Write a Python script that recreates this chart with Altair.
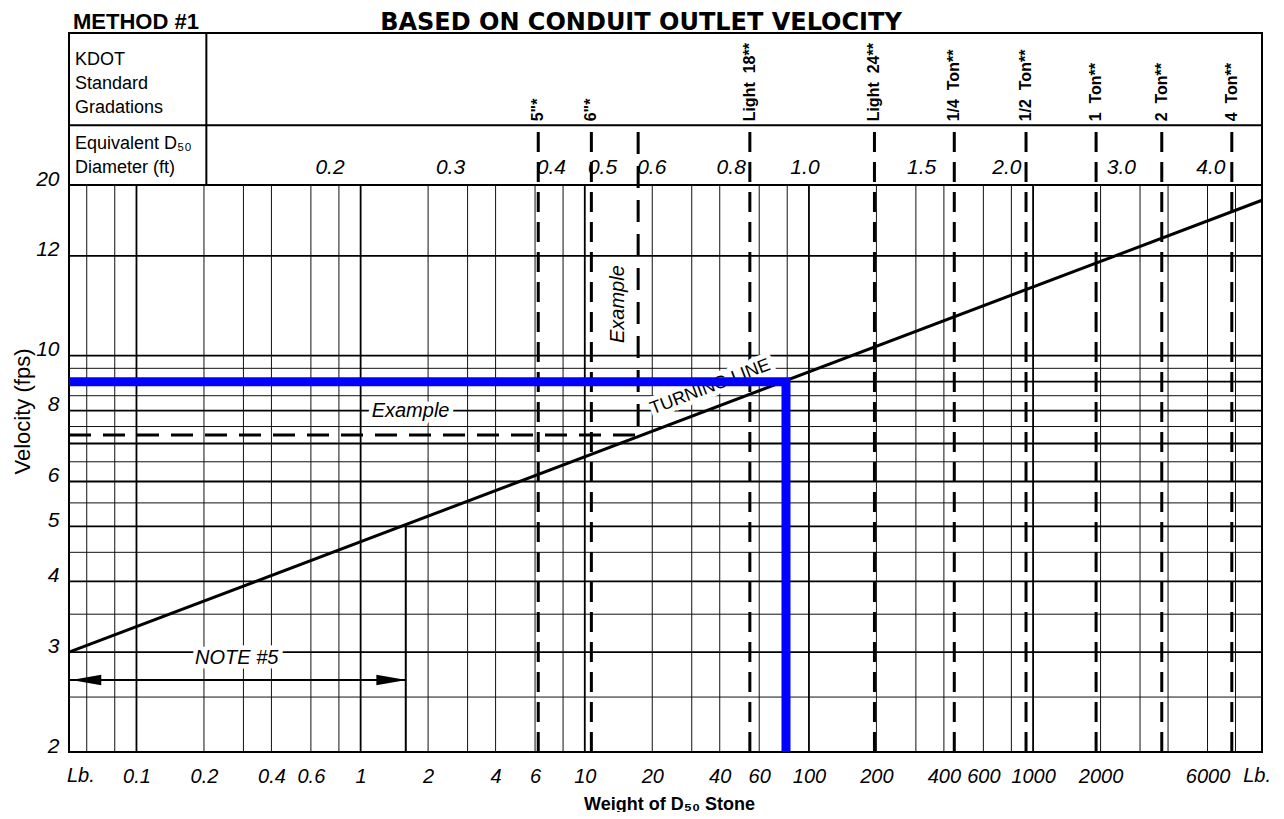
import altair as alt
import pandas as pd

# ---------------- data ----------------
# velocity grid (fps)
vel_major = [2, 3, 4, 5, 6, 7, 8, 9, 10, 15, 20]
vel_minor = [2.5, 3.5, 4.5, 5.5, 6.5, 7.5, 8.5, 9.5]
# weight grid (lb)
wt_major = [0.1, 1, 10, 100, 1000]
wt_minor = [0.06, 0.08, 0.2, 0.3, 0.4, 0.6, 0.8, 2, 3, 4, 6, 8, 20, 30, 40, 60, 80,
            200, 300, 400, 600, 800, 2000, 3000, 4000, 6000, 8000]

y_tick_values = [2, 3, 4, 5, 6, 8, 10, 15, 20]
y_tick_labels = ["2", "3", "4", "5", "6", "8", "10", "12", "20"]
x_tick_values = [0.1, 0.2, 0.4, 0.6, 1, 2, 4, 6, 10, 20, 40, 60, 100, 200, 400, 600,
                 1000, 2000, 6000]
x_tick_labels = ["0.1", "0.2", "0.4", "0.6", "1", "2", "4", "6", "10", "20", "40", "60",
                 "100", "200", "400", "600", "1000", "2000", "6000"]

NB = "\u00a0"
grad_names = ['5"*', '6"*', "Light" + NB + NB + "18**", "Light" + NB + NB + "24**",
              "1/4" + NB + NB + "Ton**", "1/2" + NB + NB + "Ton**", "1" + NB + NB + "Ton**",
              "2" + NB + NB + "Ton**", "4" + NB + NB + "Ton**"]
grad_weights = [6.2, 10.7, 54.5, 196, 445, 930, 1910, 3750, 7700]

d50_labels = ["0.2", "0.3", "0.4", "0.5", "0.6", "0.8", "1.0", "1.5", "2.0", "3.0", "4.0"]
d50_weights = [0.73, 2.52, 7.1, 12.0, 19.9, 45, 96, 318, 764, 2478, 6210]

turning_w = [0.05, 10500]
turning_v = [3.0, 18.8]

example_w = [0.05, 17.3, 17.3]
example_v = [7.25, 7.25, 25.5]

design_w = [0.05, 79, 79]
design_v = [9.0, 9.0, 2.0]

note_limit_w = 1.59
note_arrow_v = 2.68
note_top_v = 5.05

# ---------------- layout constants (data units) ----------------
W_MIN, W_MAX = 0.05, 10500
V_MIN, V_PLOT_MAX, V_TOP = 2, 20, 37.08
V_ROW = 25.5        # header row divider
W_COL = 0.205       # header column divider
GRAD_TOP = 25.6
GRAD_LAB = 25.9
D50_V = 20.9
XLAB_V = 1.815

FONT = "Liberation Sans"

XS = alt.Scale(type="log", domain=[W_MIN, W_MAX], nice=False)
YS = alt.Scale(type="log", domain=[V_MIN, V_TOP], nice=False)


def label_expr(vals, labs):
    e = "''"
    for v, l in reversed(list(zip(vals, labs))):
        e = f"(abs(datum.value / {v} - 1) < 1e-6 ? '{l}' : {e})"
    return e


x_axis = alt.Axis(values=x_tick_values, labelExpr=label_expr(x_tick_values, x_tick_labels),
                  title="Weight of D\u2085\u2080 Stone", grid=False, ticks=False, tickSize=0,
                  domain=False, labelFont=FONT, labelFontSize=20, labelFontStyle="italic",
                  labelColor="black", labelPadding=24, labelBaseline="middle",
                  labelOverlap=False, labelFlush=False, titleFont=FONT, titleFontSize=18,
                  titleFontWeight="bold", titleColor="black", titleX=600, titleY=52,
                  titleAlign="center", titleBaseline="middle")
y_axis = alt.Axis(values=y_tick_values, labelExpr=label_expr(y_tick_values, y_tick_labels),
                  title="Velocity  (fps)", grid=False, ticks=False, tickSize=0, domain=False,
                  labelFont=FONT, labelFontSize=21, labelFontStyle="italic", labelColor="black",
                  labelPadding=10, labelBaseline="alphabetic", labelOverlap=False,
                  labelFlush=False, titleFont=FONT, titleFontSize=22, titleFontWeight="normal",
                  titleColor="black", titleAngle=270, titleX=-47, titleY=378,
                  titleAlign="center", titleBaseline="middle")


def xq(f):
    return alt.X(f"{f}:Q", scale=XS, axis=x_axis)


def yq(f):
    return alt.Y(f"{f}:Q", scale=YS, axis=y_axis)


layers = []

# horizontal grid
layers.append(alt.Chart(pd.DataFrame({"v": vel_minor})).mark_rule(color="#111", strokeWidth=1)
              .encode(y=yq("v")))
layers.append(alt.Chart(pd.DataFrame({"v": vel_major})).mark_rule(color="black", strokeWidth=1.8)
              .encode(y=yq("v")))
# vertical grid
layers.append(alt.Chart(pd.DataFrame({"w": wt_minor, "lo": V_MIN, "hi": V_PLOT_MAX}))
              .mark_rule(color="#111", strokeWidth=1)
              .encode(x=xq("w"), y=yq("lo"), y2="hi:Q"))
layers.append(alt.Chart(pd.DataFrame({"w": wt_major, "lo": V_MIN, "hi": V_PLOT_MAX}))
              .mark_rule(color="black", strokeWidth=1.8)
              .encode(x=xq("w"), y=yq("lo"), y2="hi:Q"))
# header table lines
layers.append(alt.Chart(pd.DataFrame({"v": [V_ROW]})).mark_rule(color="black", strokeWidth=2)
              .encode(y=yq("v")))
layers.append(alt.Chart(pd.DataFrame({"w": [W_COL], "lo": V_PLOT_MAX, "hi": V_TOP}))
              .mark_rule(color="black", strokeWidth=2)
              .encode(x=xq("w"), y=yq("lo"), y2="hi:Q"))

# header texts
hdr = pd.DataFrame({
    "t": ["KDOT", "Standard", "Gradations", "Equivalent  D\u2085\u2080", "Diameter  (ft)"],
    "w": [0.0532, 0.0532, 0.0532, 0.0532, 0.0532],
    "v": [32.55, 29.53, 26.79, 23.15, 21.0],
})
layers.append(alt.Chart(hdr).mark_text(align="left", baseline="alphabetic", font=FONT,
                                       fontSize=18, color="black")
              .encode(x=xq("w"), y=yq("v"), text="t:N"))

# gradation dashed lines and labels
grad = pd.DataFrame({"w": grad_weights, "name": grad_names, "lo": V_MIN, "hi": GRAD_TOP,
                     "lab": GRAD_LAB})
layers.append(alt.Chart(grad).mark_rule(color="black", strokeWidth=3, strokeDash=[20, 10])
              .encode(x=xq("w"), y=yq("lo"), y2="hi:Q"))
layers.append(alt.Chart(grad).mark_text(angle=270, align="left", baseline="middle", font=FONT,
                                        fontSize=16, fontWeight="bold", color="black")
              .encode(x=xq("w"), y=yq("lab"), text="name:N"))

# D50 labels
d50 = pd.DataFrame({"t": d50_labels, "w": d50_weights, "v": D50_V})
layers.append(alt.Chart(d50).mark_text(align="center", baseline="alphabetic", font=FONT,
                                       fontSize=21, fontStyle="italic", color="black")
              .encode(x=xq("w"), y=yq("v"), text="t:N"))

# example dashed path
ex = pd.DataFrame({"w": example_w, "v": example_v, "o": [0, 1, 2]})
layers.append(alt.Chart(ex).mark_line(color="black", strokeWidth=3, strokeDash=[22, 12])
              .encode(x=xq("w"), y=yq("v"), order="o:Q"))

# NOTE #5 limit line and arrow
layers.append(alt.Chart(pd.DataFrame({"w": [note_limit_w], "lo": V_MIN, "hi": note_top_v}))
              .mark_rule(color="black", strokeWidth=2)
              .encode(x=xq("w"), y=yq("lo"), y2="hi:Q"))
layers.append(alt.Chart(pd.DataFrame({"a": [W_MIN], "b": [note_limit_w], "v": [note_arrow_v]}))
              .mark_rule(color="black", strokeWidth=2)
              .encode(x=xq("a"), x2="b:Q", y=yq("v")))
layers.append(alt.Chart(pd.DataFrame({"w": [0.0597], "v": [note_arrow_v]}))
              .mark_point(filled=True, size=900, shape="M -1 0 L 1 -0.35 L 1 0.35 Z",
                          color="black", opacity=1, strokeWidth=0)
              .encode(x=xq("w"), y=yq("v")))
layers.append(alt.Chart(pd.DataFrame({"w": [1.371], "v": [note_arrow_v]}))
              .mark_point(filled=True, size=900, shape="M 1 0 L -1 -0.35 L -1 0.35 Z",
                          color="black", opacity=1, strokeWidth=0)
              .encode(x=xq("w"), y=yq("v")))


def annotation(text, w, v, angle=0, italic=True, size=20, halo=9):
    df = pd.DataFrame({"t": [text], "w": [w], "v": [v]})
    style = "italic" if italic else "normal"
    h = alt.Chart(df).mark_text(align="center", baseline="middle", font=FONT, fontSize=size,
                                fontStyle=style, angle=angle, color="white", stroke="white",
                                strokeWidth=halo, strokeJoin="round") \
        .encode(x=xq("w"), y=yq("v"), text="t:N")
    t = alt.Chart(df).mark_text(align="center", baseline="middle", font=FONT, fontSize=size,
                                fontStyle=style, angle=angle, color="black") \
        .encode(x=xq("w"), y=yq("v"), text="t:N")
    return [h, t]


layers += annotation("Example", 1.67, 8.0)
layers += annotation("Example", 14.1, 12.33, angle=270, halo=4)
layers += annotation("NOTE  #5", 0.28, 2.93)
layers += annotation("TURNING  LINE", 36.3, 8.8, angle=339, italic=False, size=18, halo=10)

# turning line
tl = pd.DataFrame({"w": turning_w, "v": turning_v})
layers.append(alt.Chart(tl).mark_line(color="black", strokeWidth=3)
              .encode(x=xq("w"), y=yq("v")))

# design (blue) path
bl = pd.DataFrame({"w": design_w, "v": design_v, "o": [0, 1, 2]})
layers.append(alt.Chart(bl).mark_line(color="#0000FF", strokeWidth=9, strokeJoin="miter",
                                      strokeCap="butt")
              .encode(x=xq("w"), y=yq("v"), order="o:Q"))

# "Lb." unit labels at both ends of the weight axis
layers.append(alt.Chart(pd.DataFrame({"t": ["Lb."], "w": [W_MIN], "v": [XLAB_V]}))
              .mark_text(align="left", baseline="middle", dx=-2, font=FONT, fontSize=20,
                         fontStyle="italic", color="black")
              .encode(x=xq("w"), y=yq("v"), text="t:N"))
layers.append(alt.Chart(pd.DataFrame({"t": ["Lb."], "w": [W_MAX], "v": [XLAB_V]}))
              .mark_text(align="right", baseline="middle", dx=9, font=FONT, fontSize=20,
                         fontStyle="italic", color="black")
              .encode(x=xq("w"), y=yq("v"), text="t:N"))

# titles
layers.append(alt.Chart(pd.DataFrame({"t": ["BASED ON CONDUIT OUTLET VELOCITY"]}))
              .mark_text(align="center", baseline="alphabetic", font="DejaVu Sans", fontSize=24,
                         fontWeight="bold", color="black")
              .encode(x=alt.value(572), y=alt.value(-3), text="t:N"))
layers.append(alt.Chart(pd.DataFrame({"t": ["METHOD #1"]}))
              .mark_text(align="left", baseline="alphabetic", font=FONT, fontSize=22,
                         fontWeight="bold", color="black")
              .encode(x=alt.value(4), y=alt.value(-4), text="t:N"))

chart = alt.layer(*layers).properties(
    width=1193, height=719,
    autosize=alt.AutoSizeParams(type="none"),
    padding={"left": 61, "top": 25, "right": 14, "bottom": 60},
    background="white",
).configure_view(stroke="black", strokeWidth=2)

chart.save("out.html", embed_options={"renderer": "svg", "actions": False})
